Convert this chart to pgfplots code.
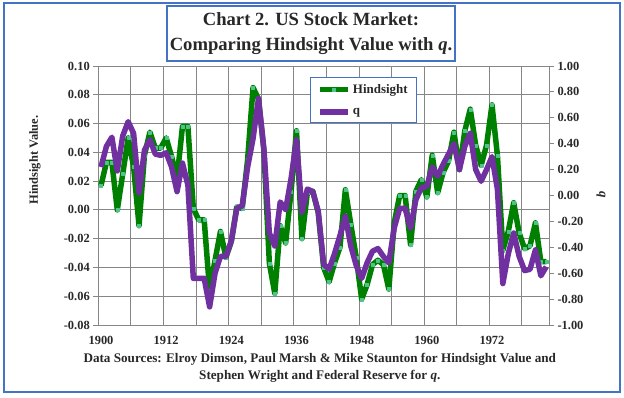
\documentclass[border=0pt]{standalone}
\usepackage{fontspec}
\setmainfont{Liberation Serif}
\usepackage{pgfplots}
\usepackage{pgfplotstable}
\pgfplotsset{compat=1.18}
\definecolor{hgreen}{RGB}{0,128,0}
\definecolor{hmark}{RGB}{80,195,140}
\definecolor{qpurple}{RGB}{112,48,160}
\definecolor{frameblue}{RGB}{68,114,196}
\definecolor{gridgray}{RGB}{134,134,134}
\definecolor{txt}{RGB}{40,40,40}
\newcommand\tickfont{\fontsize{12.5}{14}\selectfont\bfseries}

\pgfplotstableread{
k h
0 0.017
1 0.033
2 0.033
3 0.000
4 0.025
5 0.050
6 0.030
7 -0.011
8 0.038
9 0.054
10 0.043
11 0.043
12 0.050
13 0.037
14 0.022
15 0.058
16 0.058
17 0.001
18 -0.007
19 -0.007
20 -0.056
21 -0.035
22 -0.015
23 -0.033
24 -0.022
25 0.002
26 0.001
27 0.035
28 0.085
29 0.077
30 0.041
31 -0.037
32 -0.058
33 -0.011
34 -0.023
35 0.013
36 0.055
37 -0.020
38 0.012
39 0.013
40 -0.002
41 -0.040
42 -0.050
43 -0.037
44 -0.026
45 0.014
46 -0.010
47 -0.033
48 -0.062
49 -0.052
50 -0.038
51 -0.035
52 -0.038
53 -0.055
54 -0.009
55 0.010
56 0.010
57 -0.024
58 0.013
59 0.021
60 0.009
61 0.038
62 0.012
63 0.026
64 0.034
65 0.054
66 0.028
67 0.055
68 0.070
69 0.045
70 0.031
71 0.045
72 0.073
73 0.038
74 -0.028
75 -0.015
76 0.005
77 -0.016
78 -0.027
79 -0.025
80 -0.009
81 -0.036
82 -0.036
}\hind

\pgfplotstableread{
k q
0 0.22
1 0.38
2 0.45
3 0.19
4 0.46
5 0.57
6 0.48
7 0.02
8 0.35
9 0.43
10 0.32
11 0.31
12 0.33
13 0.22
14 0.03
15 0.25
16 0.08
17 -0.64
18 -0.64
19 -0.64
20 -0.86
21 -0.60
22 -0.47
23 -0.47
24 -0.35
25 -0.10
26 -0.08
27 0.22
28 0.44
29 0.75
30 0.36
31 -0.29
32 -0.39
33 -0.05
34 -0.11
35 0.13
36 0.43
37 -0.13
38 0.05
39 0.03
40 -0.12
41 -0.53
42 -0.57
43 -0.45
44 -0.31
45 -0.16
46 -0.39
47 -0.54
48 -0.64
49 -0.52
50 -0.43
51 -0.41
52 -0.47
53 -0.52
54 -0.25
55 -0.10
56 -0.10
57 -0.25
58 -0.03
59 0.06
60 0.07
61 0.22
62 0.15
63 0.24
64 0.32
65 0.40
66 0.20
67 0.38
68 0.48
69 0.20
70 0.11
71 0.20
72 0.30
73 0.05
74 -0.68
75 -0.45
76 -0.29
77 -0.47
78 -0.58
79 -0.57
80 -0.42
81 -0.62
82 -0.55
}\qtab

\begin{document}
\begin{tikzpicture}
\useasboundingbox (-98.3bp,-73bp) rectangle (525.7bp,325bp);
\fill[white] (-98.3bp,-73bp) rectangle (525.7bp,325bp);
\draw[frameblue, line width=2bp] (-94.3bp,-67bp) rectangle (521.7bp,322bp);

\begin{axis}[
  at={(0bp,0bp)}, anchor=south west,
  scale only axis, width=450.7bp, height=259bp,
  xmin=-0.5, xmax=82.5, ymin=-0.08, ymax=0.10,
  xtick={0,12,24,36,48,60,72},
  xticklabels={1900,1912,1924,1936,1948,1960,1972},
  minor xtick={-0.5,5.5,11.5,17.5,23.5,29.5,35.5,41.5,47.5,53.5,59.5,65.5,71.5,77.5},
  xminorgrids,
  ytick={-0.08,-0.06,-0.04,-0.02,0,0.02,0.04,0.06,0.08,0.10},
  ymajorgrids,
  ytick pos=left,
  grid style={gridgray, line width=0.8bp},
  minor grid style={gridgray, line width=0.8bp},
  axis line style={gridgray, line width=0.8bp},
  tick align=outside,
  major tick length=5bp, minor tick length=0pt,
  xtick style={draw=none},
  ytick style={gridgray, line width=0.8bp},
  /pgf/number format/assume math mode=true,
  ticklabel style={font=\tickfont, text=txt},
  xticklabel style={yshift=-3bp},
  yticklabel style={/pgf/number format/fixed, /pgf/number format/fixed zerofill, /pgf/number format/precision=2},
]
\addplot[hgreen, line width=5.5bp, line join=round, mark=square*, mark size=1.5bp,
  mark options={fill=hmark, draw=hmark, line width=0.2pt}] table[x=k,y=h]{\hind};
\end{axis}

\begin{axis}[
  at={(0bp,0bp)}, anchor=south west,
  scale only axis, width=450.7bp, height=259bp,
  xmin=-0.5, xmax=82.5, ymin=-1, ymax=1,
  axis x line=none, axis y line*=right,
  ytick={-1,-0.8,-0.6,-0.4,-0.2,0,0.2,0.4,0.6,0.8,1},
  axis line style={gridgray, line width=0.8bp},
  tick align=outside, major tick length=5bp,
  ytick style={gridgray, line width=0.8bp},
  /pgf/number format/assume math mode=true,
  ticklabel style={font=\tickfont, text=txt},
  yticklabel style={/pgf/number format/fixed, /pgf/number format/fixed zerofill, /pgf/number format/precision=2},
  legend style={at={(0.4697,0.9575)}, anchor=north west, draw=frameblue, line width=1bp,
    fill=white, font=\fontsize{13}{15}\selectfont\bfseries, text=txt,
    inner xsep=7bp, inner ysep=5bp, row sep=9bp},
  legend cell align=left,
]
\addlegendimage{legend image code/.code={\draw[hgreen,line width=5.5bp] (0bp,0bp)--(28bp,0bp);
  \fill[hmark] (12.5bp,-1.5bp) rectangle (15.5bp,1.5bp);}}
\addlegendentry{Hindsight}
\addplot[qpurple, line width=5.5bp, line join=round, no marks,
  legend image code/.code={\draw[qpurple,line width=5.5bp] (0bp,0bp)--(28bp,0bp);}]
  table[x=k,y=q]{\qtab};
\addlegendentry{q}
\end{axis}

\node[draw=frameblue, line width=1.5bp, fill=white, minimum width=288bp, minimum height=55bp,
  align=center, font=\fontsize{18.7}{25}\selectfont\bfseries, text=txt, inner sep=1bp]
  at (212.7bp,291.5bp) {Chart 2. US Stock Market:\\Comparing Hindsight Value with \textit{q}.};
\node[rotate=90, font=\tickfont, text=txt] at (-63.3bp,165bp) {Hindsight Value.};
\node[rotate=-90, font=\fontsize{13}{15}\selectfont\bfseries, text=txt] at (502.7bp,130bp) {\textit{q}};
\node[align=center, font=\fontsize{13.2}{17}\selectfont\bfseries, text=txt]
  at (221.5bp,-42.5bp) {Data Sources: Elroy Dimson, Paul Marsh \& Mike Staunton for Hindsight Value and\\Stephen Wright and Federal Reserve for \textit{q}.};
\end{tikzpicture}
\end{document}
